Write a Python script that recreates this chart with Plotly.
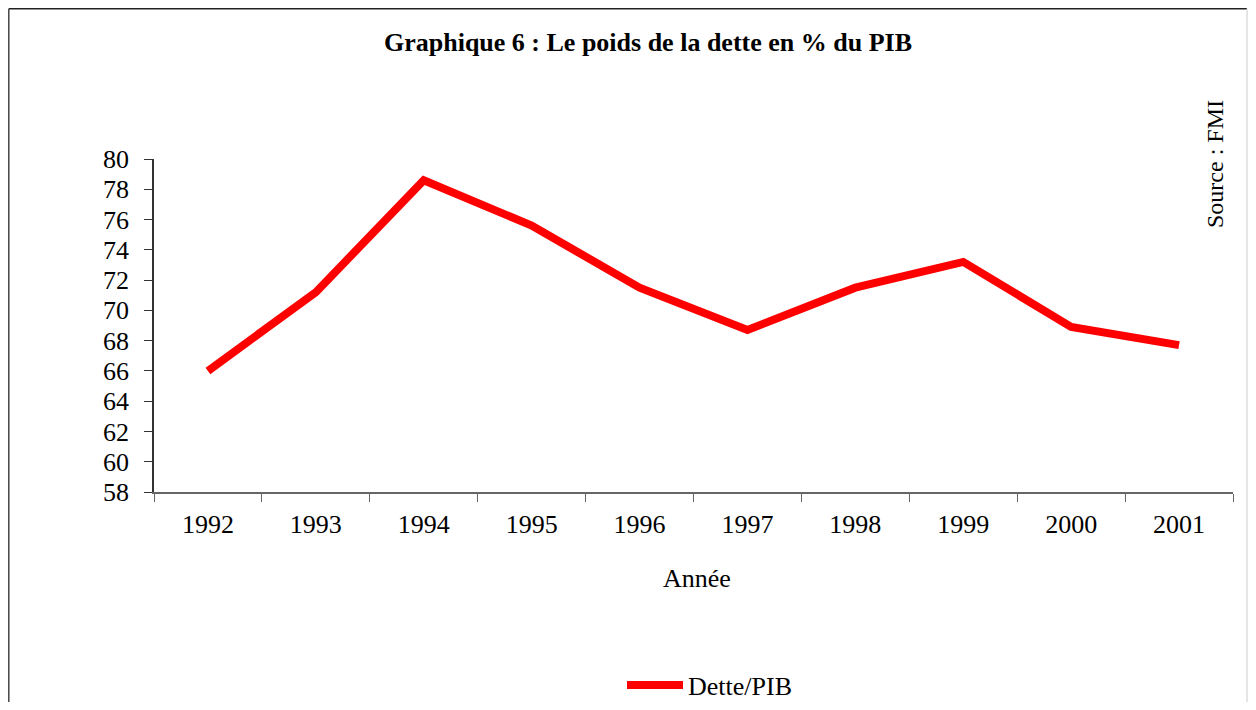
import plotly.graph_objects as go

years = ["1992", "1993", "1994", "1995", "1996", "1997", "1998", "1999", "2000", "2001"]
dette_pib = [66.0, 71.2, 78.6, 75.6, 71.5, 68.7, 71.5, 73.2, 68.9, 67.7]
y_ticks = list(range(58, 81, 2))

FONT = "Liberation Serif, Times New Roman, serif"

OFF = 8  # page body margin
W, H = 1256 - 2 * OFF, 710 - 2 * OFF
L, T = 154 - OFF, 159 - OFF
pw, ph = 1079, 333
R = W - L - pw
B = H - T - ph

fig = go.Figure()
fig.add_trace(go.Scatter(
    x=years, y=dette_pib, mode="lines", name="Dette/PIB",
    line=dict(color="#ff0000", width=8),
))


def px(x):
    return (x - OFF - L) / pw


def py(y):
    return (T + ph - (y - OFF)) / ph


fig.update_layout(
    width=W, height=H,
    margin=dict(l=L, r=R, t=T, b=B, autoexpand=False),
    paper_bgcolor="white", plot_bgcolor="white",
    font=dict(family=FONT, color="black", size=26),
    title=dict(text="<b>Graphique 6 : Le poids de la dette en % du PIB</b>",
               x=(648 - OFF) / W, xanchor="center", y=1 - (42 - OFF) / H, yanchor="middle",
               yref="container", font=dict(size=26, family=FONT)),
    showlegend=True,
    legend=dict(orientation="h", x=px(622), xanchor="left", y=py(685), yanchor="middle",
                itemwidth=56,
                font=dict(size=26, family=FONT), bgcolor="rgba(0,0,0,0)"),
    xaxis=dict(type="category", tickson="boundaries", ticks="outside", ticklen=8,
               tickcolor="#666", showline=True, linecolor="#666", linewidth=1.5,
               showgrid=False, range=[-0.5, 9.5], tickfont=dict(size=26),
               ticklabelstandoff=8),
    yaxis=dict(range=[58, 80], tickvals=y_ticks, ticks="outside", ticklen=8,
               tickcolor="#333", showline=True, linecolor="#333", linewidth=1.5,
               showgrid=False, zeroline=False, tickfont=dict(size=26),
               ticklabelstandoff=10),
)

fig.add_annotation(text="Année", x=px(697), y=py(578), xref="paper", yref="paper",
                   xanchor="center", yanchor="middle",
                   showarrow=False, font=dict(size=26, family=FONT))
fig.add_annotation(text="Source : FMI", x=px(1215), y=py(164), xref="paper", yref="paper",
                   xanchor="center", yanchor="middle",
                   showarrow=False, textangle=-90, font=dict(size=24, family=FONT))

# outer frame
fig.add_shape(type="line", xref="paper", yref="paper", x0=px(8.8), x1=px(8.8), y0=py(8.8), y1=py(715),
              line=dict(color="#444", width=1.5))
fig.add_shape(type="line", xref="paper", yref="paper", x0=px(8.8), x1=px(1247), y0=py(8.8), y1=py(8.8),
              line=dict(color="#222", width=1.5))
fig.add_shape(type="line", xref="paper", yref="paper", x0=px(1247), x1=px(1247), y0=py(8.8), y1=py(715),
              line=dict(color="#ddd", width=1.5))

fig.write_html("out.html")
